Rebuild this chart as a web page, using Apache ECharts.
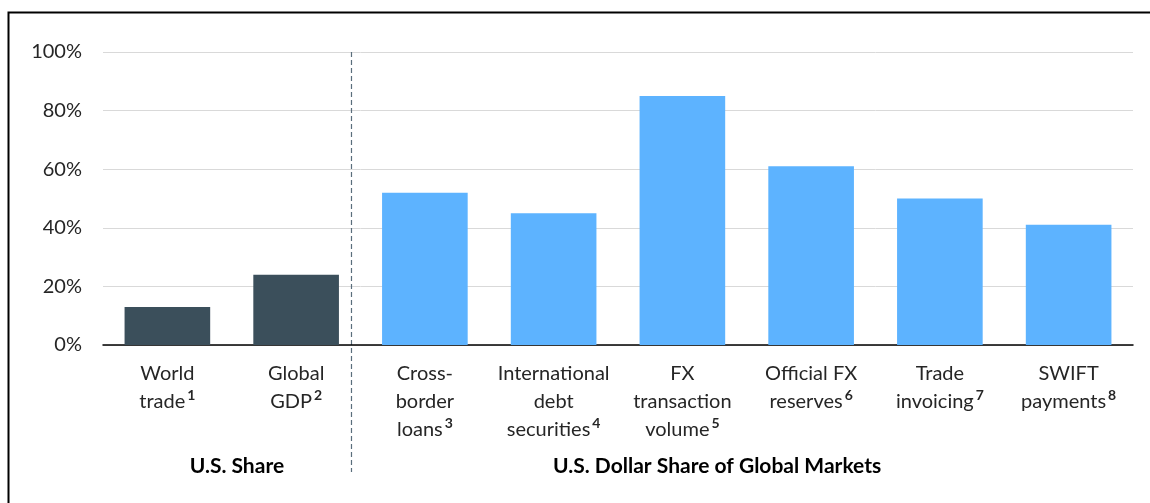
<!DOCTYPE html>
<html><head><meta charset="utf-8">
<script src="https://cdn.jsdelivr.net/npm/echarts@6/dist/echarts.min.js"></script>
<style>html,body{margin:0;padding:0;background:#fff}#c{width:1150px;height:503px}</style>
</head><body><div id="c"></div>
<script>
const categories = ["World\ntrade", "Global\nGDP", "Cross-\nborder\nloans", "International\ndebt\nsecurities", "FX\ntransaction\nvolume", "Official FX\nreserves", "Trade\ninvoicing", "SWIFT\npayments"];
const footnotes = ["1", "2", "3", "4", "5", "6", "7", "8"];
const values = [13, 24, 52, 45, 85, 61, 50, 41];
const groups = ["us", "us", "usd", "usd", "usd", "usd", "usd", "usd"];
const groupTitles = ["U.S. Share", "U.S. Dollar Share of Global Markets"];
const yTicks = [0, 20, 40, 60, 80, 100];

const FONT = "Lato";
const colors = {us: "#3B4F5B", usd: "#5DB3FF"};
const chart = echarts.init(document.getElementById('c'), null, {renderer: 'canvas'});
const labels = categories.map((c, i) => c + '{s|' + footnotes[i] + '}');

chart.setOption({
  animation: false,
  textStyle: {fontFamily: FONT},
  grid: {left: 103, right: 17, top: 52, bottom: 158, containLabel: false},
  xAxis: {
    type: 'category', data: labels,
    axisLine: {lineStyle: {color: '#000', width: 1.5}},
    axisTick: {show: false},
    axisLabel: {
      interval: 0, margin: 15, color: '#262626', fontSize: 20, lineHeight: 28, fontFamily: FONT,
      rich: {s: {fontSize: 14, fontWeight: 'bold', verticalAlign: 'top', lineHeight: 28, color: '#262626', fontFamily: FONT, padding: [0, 0, 8, 2]}}
    }
  },
  yAxis: {
    type: 'value', min: 0, max: 100, interval: 20,
    axisLine: {show: false}, axisTick: {show: false},
    splitLine: {lineStyle: {color: '#d9d9d9', width: 1}},
    axisLabel: {formatter: v => yTicks.includes(v) ? v + '%' : '', color: '#262626', fontSize: 20, margin: 21, fontFamily: FONT}
  },
  series: [{
    type: 'bar', barWidth: '66.5%',
    data: values.map((v, i) => ({value: v, itemStyle: {color: colors[groups[i]]}}))
  }]
});

function px(idx) {
  const a = Math.floor(idx), b = Math.min(a + 1, categories.length - 1), f = idx - a;
  const pa = chart.convertToPixel({xAxisIndex: 0}, a);
  const pb = chart.convertToPixel({xAxisIndex: 0}, b);
  return pa + (pb - pa) * f;
}
const yTop = chart.convertToPixel({yAxisIndex: 0}, 100);
const divX = px(1.43);
chart.setOption({
  graphic: [
    {type: 'rect', shape: {x: 8.5, y: 12.5, width: 1200, height: 600}, style: {fill: 'none', stroke: '#000', lineWidth: 2}, silent: true},
    {type: 'line', shape: {x1: divX, y1: yTop, x2: divX, y2: 472}, style: {stroke: '#5a6e7c', lineWidth: 1.2, lineDash: [5, 3]}},
    {type: 'text', x: px(0.54), y: 466, style: {text: groupTitles[0], font: 'bold 21px ' + FONT, fill: '#000', align: 'center', verticalAlign: 'middle'}},
    {type: 'text', x: px(4.27), y: 466, style: {text: groupTitles[1], font: 'bold 21px ' + FONT, fill: '#000', align: 'center', verticalAlign: 'middle'}}
  ]
});
</script></body></html>
